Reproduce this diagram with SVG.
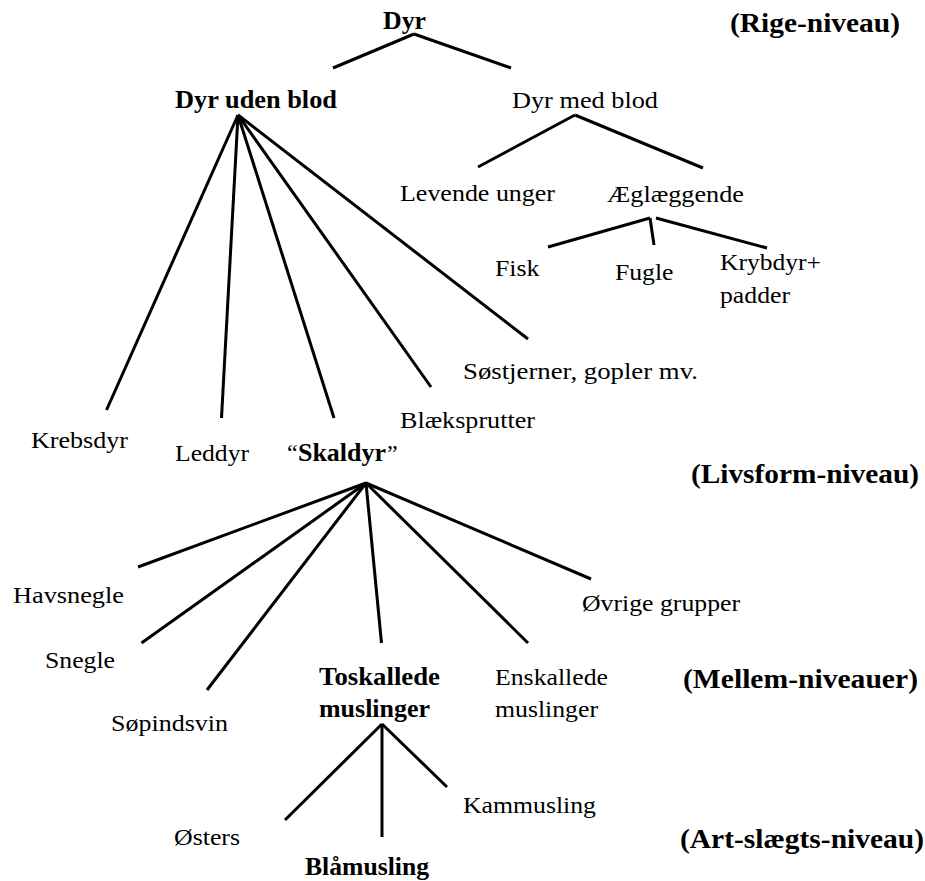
<svg xmlns="http://www.w3.org/2000/svg" width="925" height="881" viewBox="0 0 925 881">
<style>
text{font-family:"Liberation Serif","Times New Roman",serif;fill:#000}
.n{font-size:24px}
.b{font-size:24.5px;font-weight:bold}
.lv{font-size:27px;font-weight:bold}
.c line{stroke:#000;stroke-width:3;stroke-linecap:butt}
</style>
<rect width="925" height="881" fill="#fff"/>
<g class="c" id="connectors">
<line x1="414" y1="34" x2="333" y2="68"/>
<line x1="414" y1="34" x2="511" y2="68"/>
<line x1="575" y1="115" x2="478" y2="167"/>
<line x1="575" y1="115" x2="703" y2="168"/>
<line x1="238" y1="115" x2="106.5" y2="410"/>
<line x1="238" y1="115" x2="221.5" y2="418"/>
<line x1="238" y1="115" x2="334" y2="418"/>
<line x1="238" y1="115" x2="431" y2="387"/>
<line x1="238" y1="115" x2="528" y2="339"/>
<line x1="650" y1="218" x2="548" y2="247"/>
<line x1="650" y1="218" x2="654" y2="245"/>
<line x1="656" y1="218" x2="767" y2="248"/>
<line x1="366" y1="483" x2="138" y2="567"/>
<line x1="366" y1="483" x2="141.5" y2="643"/>
<line x1="366" y1="483" x2="207" y2="690"/>
<line x1="366" y1="483" x2="381.5" y2="643"/>
<line x1="366" y1="483" x2="528" y2="643"/>
<line x1="366" y1="483" x2="591" y2="579"/>
<line x1="382" y1="724" x2="285" y2="820"/>
<line x1="382" y1="724" x2="382" y2="837"/>
<line x1="382" y1="724" x2="447" y2="787"/>
</g>
<g id="dyr"><text class="b" x="383" y="29" textLength="43" lengthAdjust="spacingAndGlyphs">Dyr</text></g>
<g id="dyr-uden-blod"><text class="b" x="175" y="108" textLength="162" lengthAdjust="spacingAndGlyphs">Dyr uden blod</text></g>
<g id="dyr-med-blod"><text class="n" x="512" y="108" textLength="146" lengthAdjust="spacingAndGlyphs">Dyr med blod</text></g>
<g id="levende-unger"><text class="n" x="400" y="201" textLength="155" lengthAdjust="spacingAndGlyphs">Levende unger</text></g>
<g id="aeglaeggende"><text class="n" x="607" y="202" textLength="137" lengthAdjust="spacingAndGlyphs">Æglæggende</text></g>
<g id="fisk"><text class="n" x="495" y="276" textLength="44.5" lengthAdjust="spacingAndGlyphs">Fisk</text></g>
<g id="fugle"><text class="n" x="615" y="280" textLength="58.5" lengthAdjust="spacingAndGlyphs">Fugle</text></g>
<g id="krybdyr"><text class="n" x="720" y="270" textLength="101" lengthAdjust="spacingAndGlyphs">Krybdyr+</text><text class="n" x="720" y="303" textLength="70" lengthAdjust="spacingAndGlyphs">padder</text></g>
<g id="sostjerner"><text class="n" x="463" y="379" textLength="235" lengthAdjust="spacingAndGlyphs">Søstjerner, gopler mv.</text></g>
<g id="blaeksprutter"><text class="n" x="400" y="428" textLength="135" lengthAdjust="spacingAndGlyphs">Blæksprutter</text></g>
<g id="krebsdyr"><text class="n" x="31" y="448" textLength="97" lengthAdjust="spacingAndGlyphs">Krebsdyr</text></g>
<g id="leddyr"><text class="n" x="175" y="461" textLength="74" lengthAdjust="spacingAndGlyphs">Leddyr</text></g>
<g id="skaldyr"><text class="n" x="287" y="461">“</text><text class="b" x="298" y="461" textLength="88" lengthAdjust="spacingAndGlyphs">Skaldyr</text><text class="n" x="387" y="461">”</text></g>
<g id="havsnegle"><text class="n" x="13" y="603" textLength="111" lengthAdjust="spacingAndGlyphs">Havsnegle</text></g>
<g id="snegle"><text class="n" x="45" y="668" textLength="70" lengthAdjust="spacingAndGlyphs">Snegle</text></g>
<g id="sopindsvin"><text class="n" x="111" y="731" textLength="117" lengthAdjust="spacingAndGlyphs">Søpindsvin</text></g>
<g id="toskallede"><text class="b" x="319" y="685" textLength="121" lengthAdjust="spacingAndGlyphs">Toskallede</text><text class="b" x="319" y="717" textLength="111" lengthAdjust="spacingAndGlyphs">muslinger</text></g>
<g id="enskallede"><text class="n" x="495" y="685" textLength="113" lengthAdjust="spacingAndGlyphs">Enskallede</text><text class="n" x="495" y="717" textLength="103" lengthAdjust="spacingAndGlyphs">muslinger</text></g>
<g id="ovrige"><text class="n" x="582" y="611" textLength="158" lengthAdjust="spacingAndGlyphs">Øvrige grupper</text></g>
<g id="osters"><text class="n" x="174" y="845" textLength="66" lengthAdjust="spacingAndGlyphs">Østers</text></g>
<g id="blamusling"><text class="b" x="305" y="875" textLength="124" lengthAdjust="spacingAndGlyphs">Blåmusling</text></g>
<g id="kammusling"><text class="n" x="463" y="813" textLength="133" lengthAdjust="spacingAndGlyphs">Kammusling</text></g>
<g id="levels">
<text class="lv" x="730" y="32" textLength="170" lengthAdjust="spacingAndGlyphs">(Rige-niveau)</text>
<text class="lv" x="691" y="483" textLength="228" lengthAdjust="spacingAndGlyphs">(Livsform-niveau)</text>
<text class="lv" x="683" y="688" textLength="235" lengthAdjust="spacingAndGlyphs">(Mellem-niveauer)</text>
<text class="lv" x="680" y="848" textLength="244" lengthAdjust="spacingAndGlyphs">(Art-slægts-niveau)</text>
</g>
</svg>
